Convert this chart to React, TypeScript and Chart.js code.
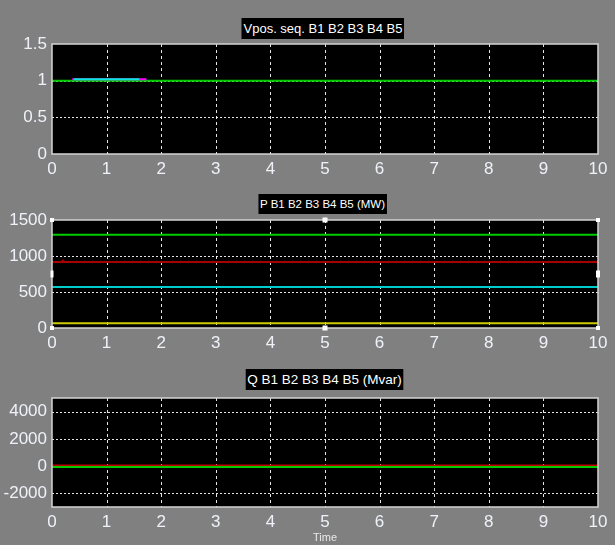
import React, { useEffect, useRef } from "react";
import { Chart, registerables } from "chart.js";

Chart.register(...registerables);

// ---- data ----
const X_TICKS = [0, 1, 2, 3, 4, 5, 6, 7, 8, 9, 10];
const V_TICKS = [0, 0.5, 1, 1.5];
const P_TICKS = [0, 500, 1000, 1500];
const Q_TICKS = [-2000, 0, 2000, 4000];

const TIME_FULL = [0, 10];

const V_GREEN = [1.0, 1.0];
const V_MAGENTA_TIME = [0.37, 1.73];
const V_MAGENTA = [1.018, 1.018];
const V_CYAN_TIME = [0.4, 1.6];
const V_CYAN = [1.018, 1.018];

const P_GREEN = [1295, 1295];
const P_RED_TIME = [0, 0.17, 0.2, 0.23, 10];
const P_RED = [915, 915, 935, 915, 915];
const P_CYAN = [570, 570];
const P_YELLOW = [65, 65];

const Q_RED = [50, 50];
const Q_GREEN = [-70, -70];

const TITLES = ["Vpos. seq. B1 B2 B3 B4 B5", "P B1 B2 B3 B4 B5 (MW)", "Q B1 B2 B3 B4 B5 (Mvar)"];
const X_TITLE = "Time";

const FONT = "'Liberation Sans', Arial, sans-serif";
const BG = "#808080";

function pts(xs: number[], ys: number[]) {
  return xs.map((x, i) => ({ x, y: ys[i] }));
}

function ds(xs: number[], ys: number[], color: string, order: number) {
  return {
    data: pts(xs, ys),
    borderColor: color,
    backgroundColor: color,
    borderWidth: 2,
    pointRadius: 0,
    fill: false,
    tension: 0,
    order,
  };
}

const plotBg = {
  id: "plotBg",
  beforeDraw(chart: any) {
    const { ctx, chartArea: a } = chart;
    ctx.save();
    ctx.fillStyle = "#000000";
    ctx.fillRect(a.left, a.top, a.right - a.left, a.bottom - a.top);
    ctx.restore();
  },
};

const dottedGrid = {
  id: "dottedGrid",
  beforeDatasetsDraw(chart: any) {
    const { ctx, chartArea: a, scales } = chart;
    ctx.save();
    ctx.strokeStyle = "rgba(255,255,255,0.9)";
    ctx.lineWidth = 1;
    ctx.setLineDash([3, 3]);
    for (const t of scales.x.ticks) {
      const px = Math.round(scales.x.getPixelForValue(t.value)) + 0.5;
      if (px <= a.left + 1 || px >= a.right - 1) continue;
      ctx.beginPath();
      ctx.moveTo(px, a.top);
      ctx.lineTo(px, a.bottom);
      ctx.stroke();
    }
    ctx.setLineDash([2, 2]);
    for (const t of scales.y.ticks) {
      const py = Math.round(scales.y.getPixelForValue(t.value)) + 0.5;
      if (py <= a.top + 1 || py >= a.bottom - 1) continue;
      ctx.beginPath();
      ctx.moveTo(a.left, py);
      ctx.lineTo(a.right, py);
      ctx.stroke();
    }
    ctx.restore();
  },
};

const frame = {
  id: "frame",
  afterDraw(chart: any, _a: any, opts: any) {
    const { ctx, chartArea: a } = chart;
    ctx.save();
    ctx.strokeStyle = "#d4d4d4";
    ctx.lineWidth = 1.5;
    ctx.strokeRect(a.left, a.top, a.right - a.left, a.bottom - a.top);
    if (opts && opts.handles) {
      const mx = (a.left + a.right) / 2;
      const my = (a.top + a.bottom) / 2;
      const spots = [
        [a.left, a.top, 4, 4], [mx, a.top, 5, 5], [a.right, a.top, 4, 4],
        [a.left, my, 3, 7], [a.right, my, 4, 7],
        [a.left, a.bottom, 4, 4], [mx, a.bottom, 5, 5], [a.right, a.bottom, 4, 4],
      ];
      ctx.fillStyle = "#ffffff";
      for (const [x, y, w, h] of spots) {
        ctx.fillRect(x - w / 2, y - h / 2, w, h);
      }
    }
    ctx.restore();
  },
};

type PanelProps = {
  top: number;
  height: number;
  padTop: number;
  plotBottom: number;
  datasets: any[];
  yTicks: number[];
  yMin: number;
  yMax: number;
  handles?: boolean;
  xTitle?: string;
};

function Panel(p: PanelProps) {
  const ref = useRef<HTMLCanvasElement>(null);
  useEffect(() => {
    const xAxisH = p.top + p.height - p.plotBottom;
    const chart = new Chart(ref.current as HTMLCanvasElement, {
      type: "line",
      data: { datasets: p.datasets },
      plugins: [plotBg, dottedGrid, frame],
      options: {
        animation: false,
        responsive: false,
        devicePixelRatio: 1,
        layout: { padding: { left: 0, top: p.padTop, right: 17, bottom: 0 } },
        plugins: {
          legend: { display: false },
          tooltip: { enabled: false },
          title: { display: false },
          frame: { handles: !!p.handles },
        } as any,
        scales: {
          x: {
            type: "linear",
            min: 0,
            max: 10,
            afterBuildTicks: (s: any) => {
              s.ticks = X_TICKS.map((v) => ({ value: v }));
            },
            afterFit: (s: any) => {
              s.height = xAxisH;
            },
            grid: { display: false, drawTicks: false },
            border: { display: false },
            ticks: {
              color: "#eef2f8",
              font: { family: FONT, size: 17 },
              padding: 5,
              maxRotation: 0,
              autoSkip: false,
              callback: (v: any) => String(v),
            },
            title: p.xTitle
              ? {
                  display: true,
                  text: p.xTitle,
                  color: "#e8e8e8",
                  font: { family: FONT, size: 11 },
                  padding: { top: 0, bottom: 0 },
                }
              : { display: false },
          },
          y: {
            type: "linear",
            min: p.yMin,
            max: p.yMax,
            afterBuildTicks: (s: any) => {
              s.ticks = p.yTicks.map((v) => ({ value: v }));
            },
            afterFit: (s: any) => {
              s.width = 52;
            },
            grid: { display: false, drawTicks: false },
            border: { display: false },
            ticks: {
              color: "#eef2f8",
              font: { family: FONT, size: 17 },
              padding: 5,
              autoSkip: false,
              callback: (v: any) => String(v),
            },
          },
        },
      } as any,
    });
    return () => chart.destroy();
  }, []);
  return (
    <canvas
      ref={ref}
      width={615}
      height={p.height}
      style={{ position: "absolute", left: 0, top: p.top, width: 615, height: p.height }}
    />
  );
}

function TitleBox({ text, top, height, size, center }: { text: string; top: number; height: number; size: number; center: number }) {
  return (
    <div
      style={{
        position: "absolute",
        left: center,
        top,
        height,
        lineHeight: height + "px",
        transform: "translateX(-50%)",
        background: "#000",
        color: "#fff",
        fontFamily: FONT,
        fontSize: size,
        padding: "0 2px",
        whiteSpace: "nowrap",
        zIndex: 2,
      }}
    >
      {text}
    </div>
  );
}

export default function App() {
  // lower "order" is drawn on top
  const vSets = [
    ds(TIME_FULL, V_GREEN, "#00cc00", 3),
    ds(V_CYAN_TIME, V_CYAN, "#00e8d8", 1),
    ds(V_MAGENTA_TIME, V_MAGENTA, "#ff00ff", 2),
  ];
  const pSets = [
    ds(TIME_FULL, P_GREEN, "#00cc00", 1),
    ds(P_RED_TIME, P_RED, "#a80000", 2),
    ds(TIME_FULL, P_CYAN, "#00cccc", 3),
    ds(TIME_FULL, P_YELLOW, "#cccc00", 4),
  ];
  const qSets = [
    ds(TIME_FULL, Q_GREEN, "#00cc00", 1),
    ds(TIME_FULL, Q_RED, "#c00000", 2),
  ];
  return (
    <div style={{ position: "absolute", left: 0, top: 0, width: 615, height: 545, background: BG, overflow: "hidden" }}>
      <Panel top={0} height={180} padTop={44} plotBottom={154} datasets={vSets} yTicks={V_TICKS} yMin={0} yMax={1.5} />
      <Panel top={180} height={180} padTop={40} plotBottom={328} datasets={pSets} yTicks={P_TICKS} yMin={0} yMax={1500} handles />
      <Panel top={360} height={185} padTop={38} plotBottom={507} datasets={qSets} yTicks={Q_TICKS} yMin={-3000} yMax={5000} xTitle={X_TITLE} />
      <TitleBox text={TITLES[0]} top={18} height={21} size={13} center={323} />
      <TitleBox text={TITLES[1]} top={194} height={20} size={11.5} center={322.5} />
      <TitleBox text={TITLES[2]} top={369} height={21} size={13.5} center={324.5} />
    </div>
  );
}
